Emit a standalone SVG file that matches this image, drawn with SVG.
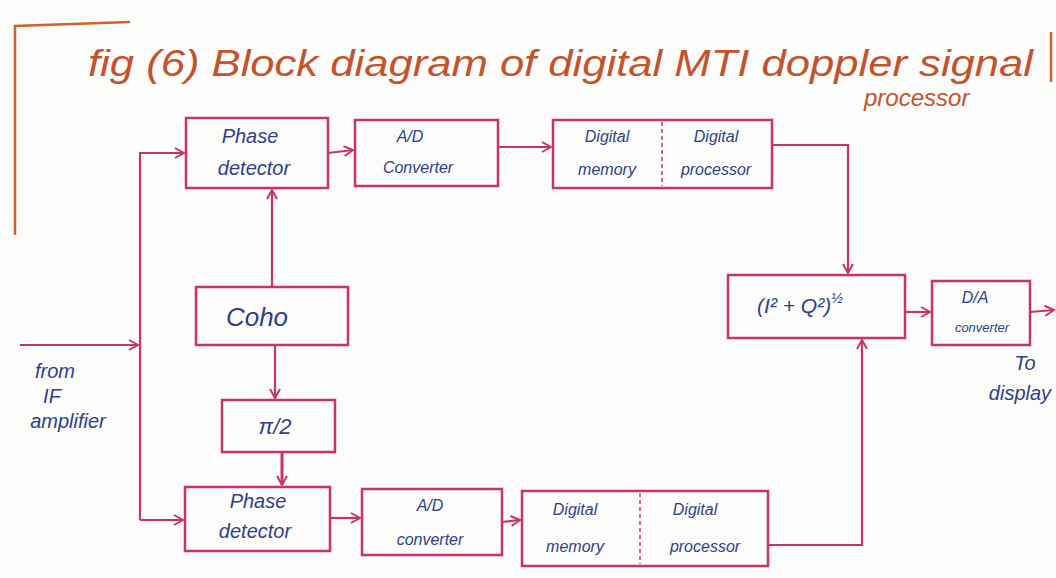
<svg xmlns="http://www.w3.org/2000/svg" width="1056" height="578" viewBox="0 0 1056 578">
<defs>
<marker id="arr" markerWidth="12" markerHeight="12" refX="10" refY="6" orient="auto" markerUnits="userSpaceOnUse">
<path d="M1,1 L10,6 L1,11" fill="none" stroke="#c8336f" stroke-width="2"/>
</marker>
<style>
.box{fill:none;stroke:#c8336f;stroke-width:2.5}
.ln{fill:none;stroke:#c8336f;stroke-width:2.2}
.t{font-family:"Liberation Sans",Arial,sans-serif;fill:#2d3f8e;text-anchor:middle;font-style:italic}
.s{font-size:20px}
.m{font-size:16px}
.ttl{font-family:"Liberation Sans",Arial,sans-serif;fill:#c4532c;font-style:italic}
.fr{fill:none;stroke:#d0622e;stroke-width:2.5}
</style>
</defs>
<rect width="1056" height="578" fill="#fcfcfa"/>
<g id="frame">
<path class="fr" d="M15,235 L15,26 L130,22"/>
<path class="fr" d="M1051,32 L1051,82"/>
</g>
<g id="title">
<text class="ttl" x="88" y="76" style="font-size:36px" textLength="945" lengthAdjust="spacingAndGlyphs">fig (6) Block diagram of digital MTI doppler signal</text>
<text class="ttl" x="864" y="106" style="font-size:24px">processor</text>
</g>
<g id="connectors">
<path class="ln" d="M20,345 L138,345" marker-end="url(#arr)"/>
<path class="ln" d="M140,520 L140,153 L184,153" marker-end="url(#arr)"/>
<path class="ln" d="M140,520 L183,520" marker-end="url(#arr)"/>
<path class="ln" d="M328,153 L353,150" marker-end="url(#arr)"/>
<path class="ln" d="M498,147 L551,147" marker-end="url(#arr)"/>
<path class="ln" d="M772,145 L848,145 L848,273" marker-end="url(#arr)"/>
<path class="ln" d="M272,287 L272,190" marker-end="url(#arr)"/>
<path class="ln" d="M275,345 L275,398" marker-end="url(#arr)"/>
<path class="ln" d="M282,452 L282,485" marker-end="url(#arr)" style="stroke-width:3"/>
<path class="ln" d="M330,518 L360,518" marker-end="url(#arr)"/>
<path class="ln" d="M502,522 L520,520" marker-end="url(#arr)"/>
<path class="ln" d="M768,545 L862,545 L862,340" marker-end="url(#arr)"/>
<path class="ln" d="M905,312 L930,312" marker-end="url(#arr)"/>
<path class="ln" d="M1030,312 L1054,310" marker-end="url(#arr)"/>
</g>
<g id="pd1">
<rect class="box" x="186" y="118" width="142" height="70"/>
<text class="t s" x="250" y="143">Phase</text>
<text class="t s" x="254" y="175">detector</text>
</g>
<g id="ad1">
<rect class="box" x="355" y="120" width="143" height="66"/>
<text class="t m" x="410" y="142">A/D</text>
<text class="t m" x="418" y="173">Converter</text>
</g>
<g id="dig1">
<rect class="box" x="553" y="120" width="219" height="68"/>
<line x1="662" y1="122" x2="662" y2="186" stroke="#c8336f" stroke-width="1.5" stroke-dasharray="4,3"/>
<text class="t m" x="607" y="142">Digital</text>
<text class="t m" x="607" y="175">memory</text>
<text class="t m" x="716" y="142">Digital</text>
<text class="t m" x="716" y="175">processor</text>
</g>
<g id="coho">
<rect class="box" x="196" y="287" width="152" height="58"/>
<text class="t" x="257" y="326" style="font-size:26px">Coho</text>
</g>
<g id="pi2">
<rect class="box" x="222" y="400" width="113" height="52"/>
<text class="t" x="275" y="434" style="font-size:22px">π/2</text>
</g>
<g id="pd2">
<rect class="box" x="185" y="487" width="145" height="64"/>
<text class="t s" x="258" y="508">Phase</text>
<text class="t s" x="255" y="538">detector</text>
</g>
<g id="ad2">
<rect class="box" x="362" y="489" width="140" height="66"/>
<text class="t m" x="430" y="511">A/D</text>
<text class="t m" x="430" y="545">converter</text>
</g>
<g id="dig2">
<rect class="box" x="522" y="491" width="246" height="75"/>
<line x1="640" y1="493" x2="640" y2="564" stroke="#c8336f" stroke-width="1.5" stroke-dasharray="4,3"/>
<text class="t m" x="575" y="515">Digital</text>
<text class="t m" x="575" y="552">memory</text>
<text class="t m" x="695" y="515">Digital</text>
<text class="t m" x="705" y="552">processor</text>
</g>
<g id="mag">
<rect class="box" x="728" y="275" width="177" height="63"/>
<text class="t" x="800" y="313" style="font-size:21px">(I² + Q²)<tspan dy="-10" style="font-size:14px">½</tspan></text>
</g>
<g id="da">
<rect class="box" x="932" y="281" width="98" height="64"/>
<text class="t m" x="975" y="303">D/A</text>
<text class="t" x="982" y="332" style="font-size:13px">converter</text>
</g>
<g id="labels">
<text class="t s" x="55" y="378">from</text>
<text class="t s" x="52" y="403">IF</text>
<text class="t s" x="68" y="428">amplifier</text>
<text class="t s" x="1025" y="370">To</text>
<text class="t s" x="1020" y="400">display</text>
</g>
</svg>
